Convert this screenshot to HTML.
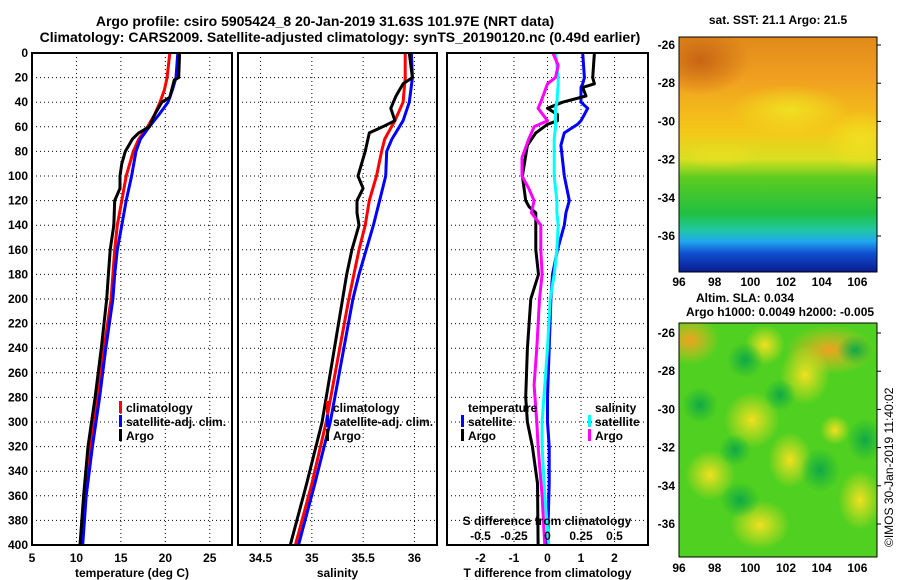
<!DOCTYPE html>
<html><head><meta charset="utf-8"><style>
body{margin:0;background:#fff}
svg{display:block}
text{font-family:"Liberation Sans",sans-serif;font-weight:bold;fill:#000}
</style></head><body>
<svg id="c" width="900" height="580" viewBox="0 0 900 580">
<defs>
<linearGradient id="sst" x1="0" y1="0" x2="0" y2="1">
<stop offset="0" stop-color="#e08a1a"/><stop offset="0.18" stop-color="#f0a020"/>
<stop offset="0.40" stop-color="#f5c818"/><stop offset="0.52" stop-color="#d8e020"/>
<stop offset="0.60" stop-color="#5ccc20"/><stop offset="0.75" stop-color="#20c040"/>
<stop offset="0.82" stop-color="#20c8a0"/><stop offset="0.87" stop-color="#20a8f0"/>
<stop offset="0.92" stop-color="#1050d0"/><stop offset="1" stop-color="#0a1a90"/>
</linearGradient>
<radialGradient id="gY"><stop offset="0" stop-color="#f0e020"/><stop offset="1" stop-color="#f0e020" stop-opacity="0"/></radialGradient>
<radialGradient id="gO"><stop offset="0" stop-color="#f0a020"/><stop offset="1" stop-color="#f0c020" stop-opacity="0"/></radialGradient>
<radialGradient id="gD"><stop offset="0" stop-color="#c86414"/><stop offset="1" stop-color="#c86414" stop-opacity="0"/></radialGradient>
<radialGradient id="gG"><stop offset="0" stop-color="#10a848"/><stop offset="1" stop-color="#10b040" stop-opacity="0"/></radialGradient>
<clipPath id="m1c"><rect x="679" y="37" width="198" height="235"/></clipPath>
<clipPath id="m2c"><rect x="679" y="323" width="198" height="234"/></clipPath>
</defs>
<g id="titles">
<text x="325" y="26" font-size="14" text-anchor="middle">Argo profile: csiro 5905424_8 20-Jan-2019 31.63S 101.97E (NRT data)</text>
<text x="340" y="42" font-size="14" text-anchor="middle">Climatology: CARS2009. Satellite-adjusted climatology: synTS_20190120.nc (0.49d earlier)</text>
</g>
<g id="plots"></g>
<g id="maps">
<text x="778" y="24" font-size="12" text-anchor="middle">sat. SST: 21.1 Argo: 21.5</text>
<g clip-path="url(#m1c)">
<rect x="679" y="37" width="198" height="235" fill="url(#sst)"/>
<ellipse cx="700" cy="60" rx="50" ry="35" fill="url(#gD)"/>
<ellipse cx="790" cy="110" rx="60" ry="25" fill="url(#gY)"/>
<ellipse cx="860" cy="140" rx="35" ry="30" fill="url(#gY)"/>
<ellipse cx="720" cy="155" rx="40" ry="15" fill="url(#gY)" opacity="0.6"/>
</g>
<rect x="679" y="37" width="198" height="235" fill="none" stroke="#000" stroke-width="1"/>
<text x="745" y="302" font-size="12" text-anchor="middle">Altim. SLA: 0.034</text>
<text x="780" y="316" font-size="12" text-anchor="middle">Argo h1000: 0.0049 h2000: -0.005</text>
<g clip-path="url(#m2c)">
<rect x="679" y="323" width="198" height="234" fill="#50d020"/>
<ellipse cx="690" cy="340" rx="30" ry="25" fill="url(#gO)"/>
<ellipse cx="830" cy="350" rx="45" ry="25" fill="url(#gO)"/>
<ellipse cx="765" cy="345" rx="20" ry="20" fill="url(#gY)"/>
<ellipse cx="805" cy="375" rx="25" ry="30" fill="url(#gY)"/>
<ellipse cx="752" cy="420" rx="28" ry="28" fill="url(#gY)"/>
<ellipse cx="710" cy="475" rx="25" ry="25" fill="url(#gY)"/>
<ellipse cx="790" cy="460" rx="22" ry="28" fill="url(#gY)"/>
<ellipse cx="760" cy="525" rx="30" ry="25" fill="url(#gY)"/>
<ellipse cx="860" cy="500" rx="22" ry="30" fill="url(#gY)"/>
<ellipse cx="835" cy="430" rx="15" ry="15" fill="url(#gY)"/>
<ellipse cx="745" cy="360" rx="18" ry="18" fill="url(#gG)"/>
<ellipse cx="780" cy="395" rx="16" ry="16" fill="url(#gG)"/>
<ellipse cx="700" cy="405" rx="18" ry="18" fill="url(#gG)"/>
<ellipse cx="735" cy="450" rx="16" ry="16" fill="url(#gG)"/>
<ellipse cx="820" cy="470" rx="20" ry="22" fill="url(#gG)"/>
<ellipse cx="865" cy="440" rx="18" ry="22" fill="url(#gG)"/>
<ellipse cx="740" cy="500" rx="20" ry="18" fill="url(#gG)"/>
<ellipse cx="855" cy="350" rx="18" ry="15" fill="url(#gG)"/>
</g>
<rect x="679" y="323" width="198" height="234" fill="none" stroke="#000" stroke-width="1"/>
<text transform="translate(893,547) rotate(-90)" font-size="12" style="font-weight:normal">©IMOS 30-Jan-2019 11:40:02</text>
</g>
</svg>
<script>
// ---- data ----
const depthTicks=[0,20,40,60,80,100,120,140,160,180,200,220,240,260,280,300,320,340,360,380,400];
const tTicks=[5,10,15,20,25];
const sTicks=[34.5,35,35.5,36];
const dTTicks=[-2,-1,0,1,2];
const dSTicks=[-0.5,-0.25,0,0.25,0.5];
const dSTickLabels=["-0.5","-0.25","0","0.25","0.5"];
const lonTicks=[96,98,100,102,104,106];
const latTicks=[-26,-28,-30,-32,-34,-36];

const tDepth=[0,20,30,40,50,60,70,80,100,120,140,160,180,200,240,280,320,360,400];
const tClim=[20.5,20.2,19.9,19.4,18.8,18.0,17.0,16.4,15.6,15.1,14.6,14.3,14.1,13.9,13.1,12.4,11.6,11.0,10.6];
const tSat=[21.4,21.2,20.8,20.3,19.3,18.2,17.2,16.7,16.2,15.6,15.1,14.6,14.3,14.1,13.3,12.6,11.8,11.1,10.7];
const aDepth=[0,20,22,36,40,50,60,65,70,80,90,100,110,120,140,160,180,200,240,280,320,360,400];
const tArgo=[21.6,21.5,21.0,20.5,19.6,18.8,18.2,17.0,16.3,15.5,15.1,14.9,14.9,14.3,14.2,13.8,13.6,13.4,12.8,12.1,11.3,10.8,10.4];

const sDepth=[0,20,40,55,70,80,100,120,140,160,180,200,250,300,350,400];
const sClim=[35.91,35.91,35.89,35.81,35.71,35.68,35.63,35.56,35.52,35.46,35.41,35.36,35.25,35.14,35.0,34.84];
const sSat=[35.97,35.98,35.95,35.89,35.78,35.73,35.72,35.66,35.6,35.53,35.46,35.4,35.29,35.18,35.03,34.87];
const sADepth=[0,20,25,35,45,55,60,65,80,100,110,120,130,140,160,180,200,250,300,350,400];
const sArgo=[35.95,35.98,35.89,35.82,35.77,35.81,35.69,35.56,35.52,35.45,35.5,35.44,35.44,35.46,35.39,35.34,35.3,35.2,35.1,34.95,34.79];

const dDepth=[0,20,25,28,35,40,45,50,55,58,65,75,100,120,125,130,140,160,180,200,240,280,300,320,350,400];
const dTArgo=[1.4,1.35,1.4,1.05,1.15,0.45,0,0.3,0.3,0,-0.35,-0.6,-0.75,-0.65,-0.55,-0.35,-0.35,-0.35,-0.27,-0.5,-0.6,-0.65,-0.6,-0.45,-0.3,-0.28];
const dTSat=[1.05,1.1,1.05,1.0,1.0,1.0,1.2,1.1,1.0,0.9,0.5,0.4,0.5,0.65,0.6,0.55,0.5,0.3,0.15,0.1,0.05,0.0,0.0,0.05,0.05,0.0];
const dS_Depth=[0,10,20,25,40,45,55,60,70,85,100,110,120,130,140,160,180,200,240,270,300,320,360,400];
const dSArgo=[0.04,0.08,0.06,0,-0.05,-0.07,0,-0.1,-0.14,-0.19,-0.19,-0.14,-0.1,-0.12,-0.05,-0.05,-0.04,-0.06,-0.08,-0.1,-0.08,-0.07,-0.04,-0.02];
const dSSat=[0.06,0.07,0.08,0.08,0.07,0.06,0.06,0.06,0.05,0.05,0.05,0.06,0.07,0.07,0.08,0.07,0.05,0.02,0.0,-0.02,-0.04,-0.04,-0.02,0.01];

// ---- drawing ----
const NS='http://www.w3.org/2000/svg';
const root=document.getElementById('plots');
const maps=document.getElementById('maps');
function el(tag,attrs,parent){const e=document.createElementNS(NS,tag);for(const k in attrs)e.setAttribute(k,attrs[k]);(parent||root).appendChild(e);return e;}
const Y0=53,Y1=545;
const yD=d=>Y0+d*(Y1-Y0)/400;
function lin(d0,d1,p0,p1){return v=>p0+(v-d0)*(p1-p0)/(d1-d0);}
const panels=[
 {x0:32,x1:232,name:'temperature-panel',xs:lin(5,27.5,32,232),ticks:tTicks,labels:tTicks.map(String),xlabel:'temperature (deg C)'},
 {x0:238,x1:437,name:'salinity-panel',xs:lin(34.28,36.22,238,437),ticks:sTicks,labels:sTicks.map(String),xlabel:'salinity'},
 {x0:447,x1:648,name:'difference-panel',xs:lin(-3,3,447,648),ticks:dTTicks,labels:dTTicks.map(String),xlabel:'T difference from climatology'}
];
const xS=lin(-0.75,0.75,447,648);
panels.forEach((p,i)=>{
 const g=el('g',{});
 
 
 depthTicks.forEach(d=>{
  if(d>0&&d<400){const l=el('line',{x1:p.x0,x2:p.x1,y1:yD(d),y2:yD(d),stroke:'#000','stroke-width':1,'stroke-dasharray':'1,3'},g);
  }
 });
 p.ticks.forEach((t,j)=>{
  const x=p.xs(t);
  if(x>p.x0+2&&x<p.x1-2){const l=el('line',{x1:x,x2:x,y1:Y0,y2:Y1,stroke:'#000','stroke-width':1,'stroke-dasharray':'1,3'},g);
  }
  const tx=el('text',{x:x,y:562,'font-size':12,'text-anchor':'middle'},g);tx.textContent=p.labels[j];
  
 });
 const xl=el('text',{x:(p.x0+p.x1)/2,y:577,'font-size':12,'text-anchor':'middle'},g);xl.textContent=p.xlabel;
 
 p.g=g;
});
depthTicks.forEach(d=>{const t=el('text',{x:28,y:yD(d)+4,'font-size':12,'text-anchor':'end'});t.textContent=String(d);
 });
const sl=el('text',{x:547,y:525,'font-size':12,'text-anchor':'middle'});sl.textContent='S difference from climatology';

dSTicks.forEach((t,j)=>{const e=el('text',{x:xS(t),y:540,'font-size':12,'text-anchor':'middle'});e.textContent=dSTickLabels[j];
 });

function line(depths,vals,xs,color,name,g,w){
 const d=depths.map((dd,i)=>(i?'L':'M')+xs(vals[i]).toFixed(1)+','+yD(dd).toFixed(1)).join('');
 const p=el('path',{d:d,fill:'none',stroke:color,'stroke-width':w||3,'stroke-linejoin':'round'},g);
 
}
const P=panels;
line(tDepth,tClim,P[0].xs,'#ff0000','temp-climatology-line',P[0].g);
line(tDepth,tSat,P[0].xs,'#0000ff','temp-satellite-line',P[0].g);
line(aDepth,tArgo,P[0].xs,'#000','temp-argo-line',P[0].g);
line(sDepth,sClim,P[1].xs,'#ff0000','sal-climatology-line',P[1].g);
line(sDepth,sSat,P[1].xs,'#0000ff','sal-satellite-line',P[1].g);
line(sADepth,sArgo,P[1].xs,'#000','sal-argo-line',P[1].g);
line(dDepth,dTSat,P[2].xs,'#0000ff','dT-satellite-line',P[2].g);
line(dDepth,dTArgo,P[2].xs,'#000','dT-argo-line',P[2].g);
line(dS_Depth,dSSat,xS,'#00ffff','dS-satellite-line',P[2].g);
line(dS_Depth,dSArgo,xS,'#ff00ff','dS-argo-line',P[2].g);
panels.forEach(p=>{const r=el('rect',{x:p.x0,y:Y0,width:p.x1-p.x0,height:Y1-Y0,fill:'none',stroke:'#000','stroke-width':2},p.g);
 });

function legend(x,y,items,gname){
 const g=el('g',{});
 items.forEach((it,i)=>{
  if(it[1]){const r=el('rect',{x:x,y:y+i*14-11,width:3,height:12,fill:it[1]},g);
   }
  const t=el('text',{x:x+7,y:y+i*14,'font-size':12},g);t.textContent=it[0];
  
 });
}
legend(119,412,[['climatology','#f00'],['satellite-adj. clim.','#00f'],['Argo','#000']],'temp-legend');
legend(326,412,[['climatology','#f00'],['satellite-adj. clim.','#00f'],['Argo','#000']],'sal-legend');
legend(461,412,[['temperature',null],['satellite','#00f'],['Argo','#000']],'dT-legend');
legend(588,412,[['salinity',null],['satellite','#0ff'],['Argo','#f0f']],'dS-legend');

// map axes
const lonX=lin(96,107.1,679,877);
const latY1=lin(-26,-36,45,236), latY2=lin(-26,-36,333,524);
lonTicks.forEach(l=>{
 [286,572].forEach(yt=>{
  const t=el('text',{x:lonX(l),y:yt,'font-size':12,'text-anchor':'middle'},maps);t.textContent=String(l);
  
 });
});
latTicks.forEach(l=>{
 [latY1,latY2].forEach(f=>{
  const t=el('text',{x:675,y:f(l)+4,'font-size':12,'text-anchor':'end'},maps);t.textContent=String(l);
  
  const k=el('line',{x1:877,x2:881,y1:f(l),y2:f(l),stroke:'#000','stroke-width':1},maps);
  
 });
});
</script>
</body></html>
